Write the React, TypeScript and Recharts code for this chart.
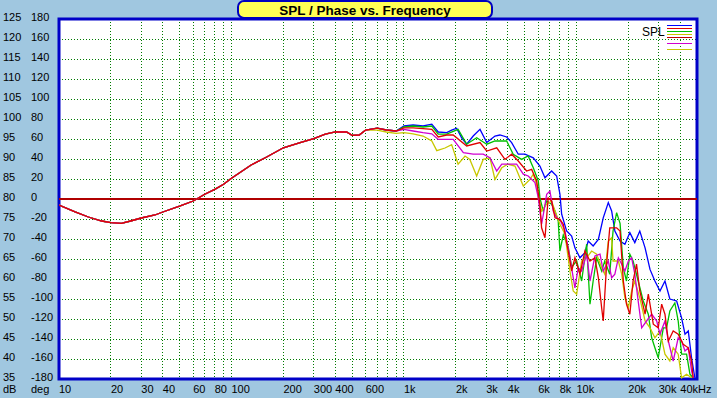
import { LineChart, Line, XAxis, YAxis, CartesianGrid, ReferenceLine, ReferenceArea } from 'recharts';

// axis ticks
const dbTicks = [35, 40, 45, 50, 55, 60, 65, 70, 75, 80, 85, 90, 95, 100, 105, 110, 115, 120, 125];
const phaseTicks = [-180, -160, -140, -120, -100, -80, -60, -40, -20, 0, 20, 40, 60, 80, 100, 120, 140, 160, 180];
const gridFreqs = [
    10, 20, 30, 40, 50, 60, 70, 80, 90,
    100, 200, 300, 400, 500, 600, 700, 800, 900,
    1000, 2000, 3000, 4000, 5000, 6000, 7000, 8000, 9000,
    10000, 20000, 30000, 40000
];
const labelFreqs = [10, 20, 30, 40, 60, 80, 100, 200, 300, 400, 600, 1000, 2000, 3000, 4000, 6000, 8000, 10000, 20000, 30000, 40000];
const freqLabels = ['10', '20', '30', '40', '60', '80', '100', '200', '300', '400', '600', '1k', '2k', '3k', '4k', '6k', '8k', '10k', '20k', '30k', '40kHz'];

// [Hz, dB] - all curves identical below 700 Hz
const lowEnd: [number, number][] = [
    [10, 78.5], [12.4, 76.8], [14.8, 75.5], [17.7, 74.5], [20, 74.1], [23, 73.9], [26, 74.5], [30, 75.25],
    [36, 76], [40, 76.75], [50, 78.2], [60, 79.5], [70, 81.2], [80, 82.4], [90, 83.7], [100, 85.2],
    [130, 88.5], [160, 90.5], [200, 92.8], [250, 94.1], [300, 95.1], [350, 96.2], [400, 96.8],
    [465, 96.75], [500, 95.9], [550, 96], [600, 97.25]
];

const blueHigh: [number, number][] = [
    [700, 97.7], [790, 97.25], [900, 97], [1000, 98.25], [1130, 98.5], [1290, 98.25], [1450, 98.7], [1580, 96.75],
    [1770, 96.6], [1890, 97.2], [2020, 97.7], [2160, 95.3], [2310, 93.7], [2520, 95.75], [2760, 97.4], [3020, 94.1],
    [3370, 95.75], [3600, 96], [3940, 95.5], [4210, 94.1], [4600, 91.2], [5030, 91.2], [5620, 90.3], [6140, 88.25],
    [6570, 85.3], [7180, 87], [7680, 85.75], [8020, 81.2], [8210, 76.2], [8770, 72], [9380, 70.75], [9800, 67.8],
    [10480, 65.3], [11200, 66.6], [11700, 69.5], [12500, 68.25], [13400, 69.9], [14300, 75.3], [15300, 79.1],
    [16000, 77], [16700, 72], [17900, 69.5], [19100, 68.7], [20400, 71.6], [21800, 69.1], [23300, 72], [25000, 67.8],
    [26700, 62.4], [28500, 59.5], [30500, 57], [32600, 59.5], [34800, 55], [38100, 54.5], [40700, 50.3],
    [42600, 46.2], [44500, 47], [46500, 40.3], [48600, 35.3]
];

const greenHigh: [number, number][] = [
    [700, 97.7], [790, 97.25], [900, 97], [1000, 98], [1130, 98.25], [1290, 98], [1450, 98.25], [1580, 96.2],
    [1770, 96.2], [2060, 97.4], [2310, 93.7], [2640, 95.3], [3020, 93.7], [3370, 94.5], [3940, 94.5], [4300, 91.2],
    [4810, 89.9], [5250, 90.75], [5620, 87.8], [6010, 84.5], [6140, 80.3], [6420, 77], [6720, 79.5], [7180, 78.7],
    [7510, 77], [7840, 74.5], [8020, 67], [8390, 71], [8960, 68], [9380, 63], [10030, 64.5], [10720, 59.5],
    [11460, 68.7], [11980, 53.7], [12500, 59.5], [13100, 65.3], [14000, 62], [14600, 64.5], [15600, 61.2],
    [16300, 72], [17100, 76.6], [17900, 73.9], [18700, 62.8], [19500, 59.5], [20400, 66.2], [21300, 64.5],
    [22800, 59.5], [24400, 54.5], [26100, 51.2], [27300, 45.3], [28500, 42.8], [29800, 40.3], [31900, 47.8],
    [33300, 47.8], [34800, 52], [37200, 54], [38900, 49.5], [40700, 41.2], [43500, 41.2], [45500, 36.2], [47500, 35.3]
];

const redHigh: [number, number][] = [
    [700, 97.7], [790, 97.25], [900, 97], [1000, 97.8], [1130, 97.8], [1290, 97.6], [1450, 97.4], [1580, 95.5],
    [1770, 96], [1930, 96], [2310, 93.25], [2760, 94.1], [3020, 92], [3450, 92.8], [3850, 89.9], [4210, 91.2],
    [4600, 89.5], [5140, 87], [5500, 87.4], [5880, 84.5], [6140, 78.7], [6280, 72.8], [6570, 70.3], [6860, 80.3],
    [7180, 79.5], [7510, 75.3], [8020, 74.9], [8390, 73.7], [8960, 67], [9380, 62], [9800, 65.3], [10480, 61.2],
    [11200, 67], [11980, 64.5], [12800, 65.3], [13400, 60.3], [14000, 52.8], [14300, 49.5], [14960, 63.7],
    [15600, 72.8], [16300, 72.8], [17100, 72.8], [17900, 72], [18700, 59.5], [19500, 53.7], [20400, 51.2],
    [21300, 59.5], [22300, 63.7], [23300, 57], [25000, 51.2], [26100, 56.2], [27900, 48.7], [29800, 47.8],
    [31200, 53.7], [32600, 51.2], [34100, 44.5], [36400, 47], [38900, 46.2], [41600, 43.7], [44500, 42.8],
    [46500, 39.5], [47500, 35.3]
];

const magentaHigh: [number, number][] = [
    [700, 97.7], [790, 97.25], [900, 97], [1000, 97.4], [1130, 97], [1290, 96.6], [1450, 96.3], [1580, 94.9],
    [1930, 94.9], [2210, 91.6], [2520, 91.2], [2880, 91.2], [3150, 90.3], [3450, 87], [3690, 88.7], [4120, 88.7],
    [4500, 88.7], [4920, 86.2], [5250, 85.75], [5750, 84.1], [6010, 80.3], [6140, 77], [6280, 73.7], [6480, 77],
    [6720, 81.2], [7020, 82], [7340, 77], [7680, 75.3], [8020, 74.9], [8580, 72], [9170, 65.3], [9800, 57.8],
    [10240, 62.8], [10720, 62], [11460, 66.2], [11980, 59.5], [12800, 65.75], [13700, 66.2], [14300, 62],
    [15300, 64.5], [16000, 60.3], [16700, 61.2], [17500, 65.3], [18300, 63.7], [19100, 62], [20000, 64.5],
    [20900, 65.3], [21800, 61.2], [22800, 54.5], [23900, 47.8], [25500, 49.5], [27300, 51.2], [29200, 49.5],
    [30500, 46.2], [32600, 49.5], [34100, 44.5], [36400, 39.5], [38900, 45.3], [40700, 44.5], [42600, 42],
    [44500, 42.8], [46500, 37], [47500, 35.3]
];

const yellowHigh: [number, number][] = [
    [700, 97.2], [790, 96.75], [900, 96.4], [1000, 96.6], [1130, 96.3], [1290, 95.75], [1450, 94.5], [1550, 92.1],
    [1730, 92.75], [1890, 93.6], [2060, 88.7], [2260, 90.75], [2410, 89.9], [2640, 85.75], [2880, 89.9], [3150, 90.3],
    [3370, 84.9], [3690, 87.8], [4000, 88.7], [4400, 88.25], [4920, 83.25], [5380, 84.9], [5620, 86.2], [5880, 83.7],
    [6010, 80.3], [6280, 77], [6720, 78.7], [7180, 79.5], [7510, 77], [8020, 73.7], [8580, 71.2], [9170, 62],
    [9580, 57], [10030, 56.2], [10720, 64.5], [11460, 65.3], [12250, 67], [13100, 66.2], [14000, 62.8],
    [14600, 61.2], [15300, 69.5], [16000, 70.3], [16300, 64.5], [17500, 64.5], [18300, 61.2], [19100, 55.3],
    [20000, 52.8], [20900, 57], [21800, 59.5], [23300, 55.3], [25000, 49.5], [26700, 47.8], [28500, 45.3],
    [30500, 47], [32600, 41.2], [34800, 39.5], [36400, 42.8], [38900, 41.2], [40700, 35.3], [43500, 36.2], [46500, 35.3]
];

const toPoints = (high: [number, number][]) => [...lowEnd, ...high].map(([f, db]) => ({ f, db }));

const series = [
    { name: 'blue', color: '#0000FF', data: toPoints(blueHigh) },
    { name: 'green', color: '#00C000', data: toPoints(greenHigh) },
    { name: 'yellow', color: '#C8C800', data: toPoints(yellowHigh) },
    { name: 'magenta', color: '#D000D0', data: toPoints(magentaHigh) },
    { name: 'red', color: '#E00000', data: toPoints(redHigh) },
];

const legendColors = ['#0000FF', '#E00000', '#00C000', '#C8C800', '#C00000', null, '#D000D0', null, '#C8C800'];

const FONT = '"Liberation Sans", Arial, sans-serif';
const BG = '#A0C7E0';

const YTick = (props: any) => {
    const { y, payload } = props;
    const i = dbTicks.indexOf(payload.value);
    return (
        <g fontFamily={FONT} fontSize={11} fill="#000">
            <text x={3} y={y + 1.5}>{payload.value}</text>
            <text x={31} y={y + 1.5}>{phaseTicks[i]}</text>
        </g>
    );
};

const XTick = (props: any) => {
    const { x, payload } = props;
    const i = labelFreqs.indexOf(payload.value);
    if (i < 0) return <g />;
    return (
        <text x={x} y={393} fontFamily={FONT} fontSize={11} fill="#000">{freqLabels[i]}</text>
    );
};

export default function App() {
    return (
        <div style={{ position: 'absolute', left: 0, top: 0, width: 717, height: 398, background: BG, overflow: 'hidden' }}>
            <style>{'.recharts-cartesian-grid line { shape-rendering: crispEdges; }'}</style>
            <LineChart width={717} height={398} margin={{ top: 19, right: 20, bottom: 0, left: 0 }}>
                <CartesianGrid fill="#FFFFFF" fillOpacity={1} stroke="#007A00" strokeDasharray="1 2" />
                <XAxis
                    dataKey="f"
                    type="number"
                    scale="log"
                    domain={[10, 50000]}
                    ticks={gridFreqs}
                    interval={0}
                    allowDataOverflow
                    axisLine={false}
                    tickLine={false}
                    tick={<XTick />}
                    height={19}
                />
                <YAxis
                    type="number"
                    domain={[35, 125]}
                    ticks={dbTicks}
                    interval={0}
                    allowDataOverflow
                    axisLine={false}
                    tickLine={false}
                    tick={<YTick />}
                    width={59}
                />
                <ReferenceLine y={80} stroke="#B00000" strokeWidth={2} />
                {series.map(s => (
                    <Line
                        key={s.name}
                        data={s.data}
                        dataKey="db"
                        type="linear"
                        stroke={s.color}
                        strokeWidth={1.3}
                        dot={false}
                        isAnimationActive={false}
                    />
                ))}
                <ReferenceArea x1={10} x2={50000} y1={35} y2={125} fill="none" stroke="#0000C8" strokeWidth={3} ifOverflow="visible" />
            </LineChart>
            <svg width={717} height={398} style={{ position: 'absolute', left: 0, top: 0, pointerEvents: 'none' }}>
                <rect x={238} y={1} width={254} height={17} rx={6} fill="#FFFF55" stroke="#0000C0" strokeWidth={2} />
                <text x={365} y={14.5} textAnchor="middle" fontFamily={FONT} fontSize={13.5} fontWeight="bold" fill="#000">
                    SPL / Phase vs. Frequency
                </text>
                <text x={642} y={36} fontFamily={FONT} fontSize={12} fill="#000">SPL</text>
                {legendColors.map((c, i) => c && (
                    <line key={i} x1={667} x2={692} y1={25.5 + i * 3} y2={25.5 + i * 3} stroke={c} strokeWidth={1} />
                ))}
                <text x={3} y={393} fontFamily={FONT} fontSize={11} fill="#000">dB</text>
                <text x={31} y={393} fontFamily={FONT} fontSize={11} fill="#000">deg</text>
            </svg>
        </div>
    );
}
